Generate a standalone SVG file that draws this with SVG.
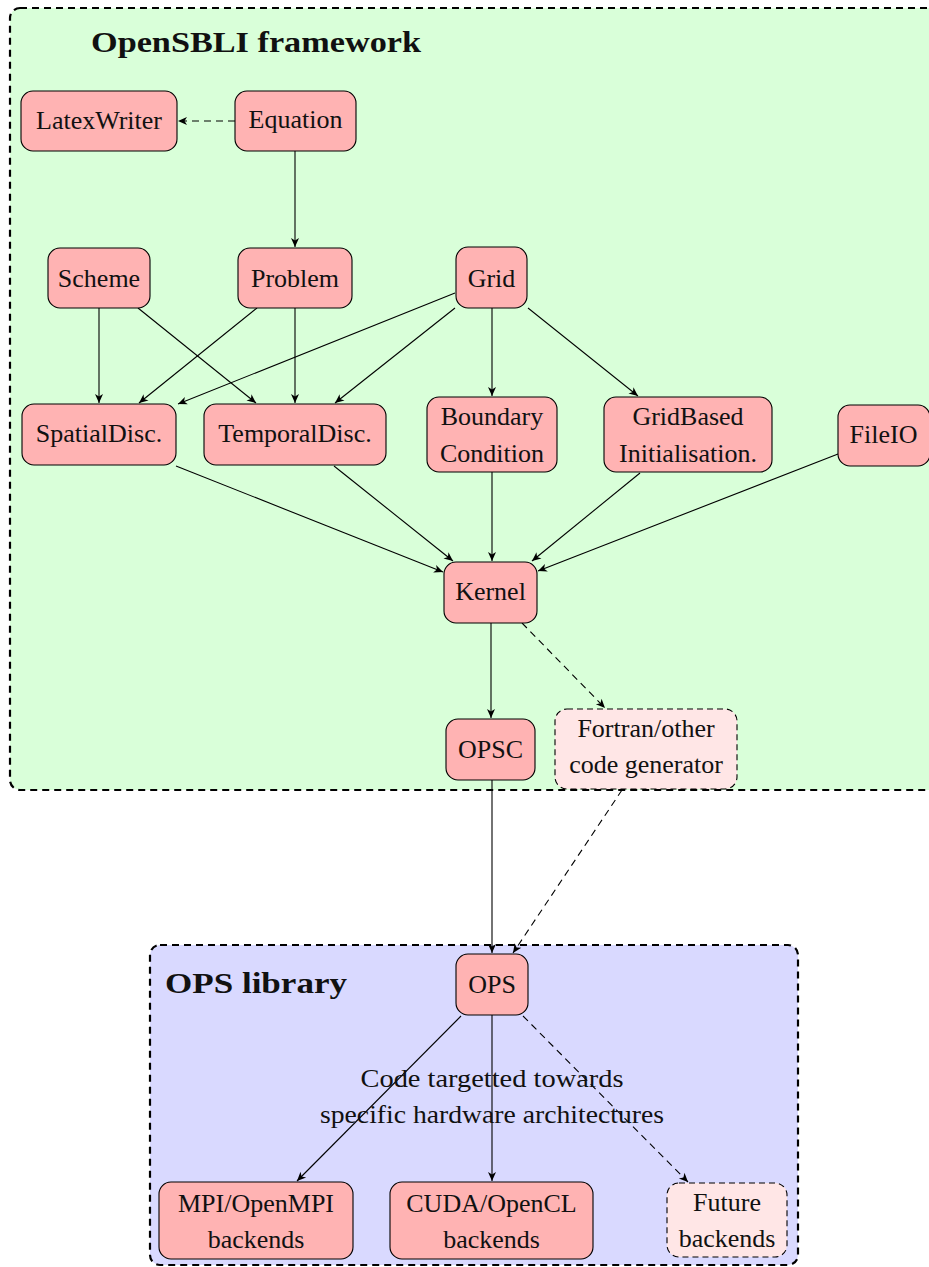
<svg xmlns="http://www.w3.org/2000/svg" width="929" height="1267" viewBox="0 0 929 1267">
<defs>
<style>
.node{fill:#ffb3b3;stroke:#000;stroke-width:1.1}
.ghost{fill:#ffe6e6;stroke:#000;stroke-width:1.1;stroke-dasharray:6 4}
.t{font-family:"Liberation Serif","Times New Roman",serif;font-size:26px;fill:#111;text-anchor:middle}
.title{font-family:"Liberation Serif","Times New Roman",serif;font-size:30px;font-weight:bold;fill:#111}
.e{fill:none;stroke:#000;stroke-width:1.1;marker-end:url(#ah)}
.d{stroke-dasharray:7 5}
.frame{stroke:#000;stroke-width:2.2;stroke-dasharray:7 5}
</style>
<marker id="ah" markerUnits="userSpaceOnUse" markerWidth="12" markerHeight="10" viewBox="-10 -5 12 10" refX="0" refY="0" orient="auto">
<path d="M0,0 L-9,-4 L-6.5,0 L-9,4 z" fill="#000"/>
</marker>
</defs>
<rect id="frame-opensbli" class="frame" x="10" y="8" width="1000" height="782" rx="10" fill="#d9ffd9"/>
<text class="title" x="91" y="52" textLength="330" lengthAdjust="spacingAndGlyphs">OpenSBLI framework</text>
<rect id="frame-ops" class="frame" x="150" y="945" width="648" height="320" rx="10" fill="#d9d9ff"/>
<text class="title" x="165" y="993" textLength="182" lengthAdjust="spacingAndGlyphs">OPS library</text>
<g id="connectors">
<path class="e d" d="M235,121 L178,121"/>
<path class="e" d="M295,151 L295,247"/>
<path class="e" d="M99,308 L99,403"/>
<path class="e" d="M138,308 L256,403"/>
<path class="e" d="M257,308 L139,403"/>
<path class="e" d="M295,308 L295,403"/>
<path class="e" d="M455,293 L178,404"/>
<path class="e" d="M455,308 L335,403"/>
<path class="e" d="M492,308 L492,396"/>
<path class="e" d="M528,308 L638,396"/>
<path class="e" d="M176,466 L443,572"/>
<path class="e" d="M334,466 L453,561"/>
<path class="e" d="M492,472 L492,561"/>
<path class="e" d="M640,473 L532,561"/>
<path class="e" d="M838,454 L538,571"/>
<path class="e" d="M491,623 L491,718"/>
<path class="e d" d="M522,623 L605,708"/>
<path class="e" d="M492,780 L492,953"/>
<path class="e d" d="M622,790 L513,953"/>
<path class="e" d="M461,1016 L297,1181"/>
<path class="e" d="M492,1015 L492,1181"/>
<path class="e d" d="M523,1016 L688,1182"/>
</g>
<text class="t" x="492" y="1087" textLength="263" lengthAdjust="spacingAndGlyphs">Code targetted towards</text>
<text class="t" x="492" y="1123" textLength="344" lengthAdjust="spacingAndGlyphs">specific hardware architectures</text>
<g id="node-latexwriter"><rect class="node" x="21" y="91" width="156" height="60" rx="12"/><text class="t" x="99" y="129">LatexWriter</text></g>
<g id="node-equation"><rect class="node" x="235" y="91" width="121" height="60" rx="12"/><text class="t" x="295.5" y="128">Equation</text></g>
<g id="node-scheme"><rect class="node" x="48" y="248" width="102" height="60" rx="12"/><text class="t" x="99" y="287">Scheme</text></g>
<g id="node-problem"><rect class="node" x="238" y="248" width="114" height="60" rx="12"/><text class="t" x="295" y="287">Problem</text></g>
<g id="node-grid"><rect class="node" x="456" y="247" width="71" height="61" rx="12"/><text class="t" x="491.5" y="287">Grid</text></g>
<g id="node-spatialdisc"><rect class="node" x="22" y="404" width="154" height="61" rx="12"/><text class="t" x="99" y="442">SpatialDisc.</text></g>
<g id="node-temporaldisc"><rect class="node" x="204" y="404" width="182" height="61" rx="12"/><text class="t" x="295" y="442">TemporalDisc.</text></g>
<g id="node-boundary"><rect class="node" x="427" y="397" width="130" height="75" rx="12"/><text class="t" x="492" y="425">Boundary</text><text class="t" x="492" y="462">Condition</text></g>
<g id="node-gridbased"><rect class="node" x="604" y="397" width="168" height="75" rx="12"/><text class="t" x="688" y="425">GridBased</text><text class="t" x="688" y="462">Initialisation.</text></g>
<g id="node-fileio"><rect class="node" x="838" y="405" width="92" height="61" rx="12"/><text class="t" x="883.5" y="443">FileIO</text></g>
<g id="node-kernel"><rect class="node" x="444" y="562" width="93" height="61" rx="12"/><text class="t" x="490.5" y="600">Kernel</text></g>
<g id="node-opsc"><rect class="node" x="446" y="719" width="89" height="61" rx="12"/><text class="t" x="490.5" y="758">OPSC</text></g>
<g id="node-fortran"><rect class="ghost" x="555" y="709" width="182" height="80" rx="12"/><text class="t" x="646" y="737">Fortran/other</text><text class="t" x="646" y="773">code generator</text></g>
<g id="node-ops"><rect class="node" x="456" y="954" width="72" height="61" rx="12"/><text class="t" x="492" y="993">OPS</text></g>
<g id="node-mpi"><rect class="node" x="159" y="1182" width="194" height="77" rx="12"/><text class="t" x="256" y="1212">MPI/OpenMPI</text><text class="t" x="256" y="1248">backends</text></g>
<g id="node-cuda"><rect class="node" x="390" y="1182" width="203" height="77" rx="12"/><text class="t" x="491.5" y="1212">CUDA/OpenCL</text><text class="t" x="491.5" y="1248">backends</text></g>
<g id="node-future"><rect class="ghost" x="667" y="1183" width="120" height="74" rx="12"/><text class="t" x="727" y="1211">Future</text><text class="t" x="727" y="1247">backends</text></g>
</svg>
